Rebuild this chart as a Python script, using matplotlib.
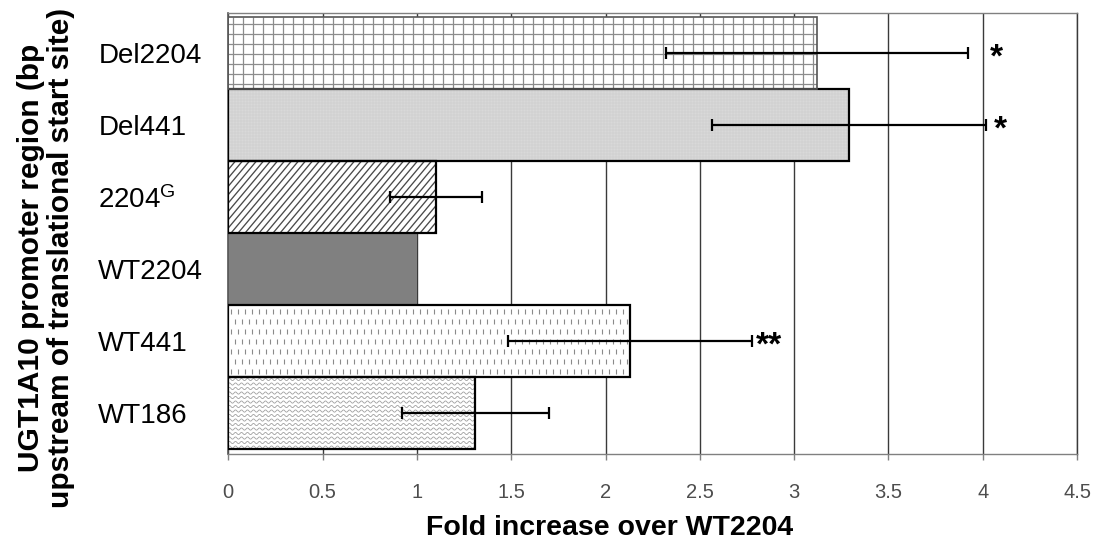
import numpy as np
import matplotlib
matplotlib.use("Agg")
import matplotlib.pyplot as plt
from matplotlib.collections import LineCollection
from matplotlib.transforms import IdentityTransform

# ---- data (bottom to top) ----
categories = ["WT186", "WT441", "WT2204", "2204$^{\\mathrm{G}}$", "Del441", "Del2204"]
fold = [1.31, 2.13, 1.00, 1.10, 3.29, 3.12]
err = [0.39, 0.645, 0.0, 0.245, 0.725, 0.80]
stars = ["", "**", "", "", "*", "*"]
xticks = [0, 0.5, 1, 1.5, 2, 2.5, 3, 3.5, 4, 4.5]
xticklabels = ["0", "0.5", "1", "1.5", "2", "2.5", "3", "3.5", "4", "4.5"]

# ---- styling ----
plt.rcParams["font.family"] = ["Liberation Sans", "DejaVu Sans"]
plt.rcParams["mathtext.fontset"] = "custom"
plt.rcParams["mathtext.rm"] = "Liberation Sans"
plt.rcParams["mathtext.it"] = "Liberation Sans:italic"
plt.rcParams["mathtext.bf"] = "Liberation Sans:bold"

textures = ["wave", "dash", "solid", "diag", "fine", "grid"]
faces = ["white", "white", "#808080", "white", "#d9d9d9", "white"]
edge_cols = ["black", "black", "none", "black", "black", "#555555"]
edge_lws = [1.6, 1.6, 0, 1.6, 1.6, 1.2]
star_dx = [0, 3, 0, 0, 6, 16]   # horizontal gap (pt) between error cap and marker

W, H = 1093, 550
DPI = 100
fig = plt.figure(figsize=(W / DPI, H / DPI), dpi=DPI)
ax = fig.add_axes([228.3 / W, 1 - 454 / H, (1077 - 228.3) / W, (454 - 13.3) / H])

y = np.arange(len(categories))
fold_a = np.asarray(fold)
err_a = np.asarray(err)

ax.set_xlim(0, 4.5)
ax.set_ylim(-0.569, 5.556)

# vertical grid behind the bars
ax.set_axisbelow(True)
ax.xaxis.grid(True, color="#3a3a3a", linewidth=1.0)
ax.yaxis.grid(False)

fills = ax.barh(y, fold_a, height=1.0, color=faces, edgecolor="none", zorder=2)


def add_texture(patch, kind):
    x0, y0, x1, y1 = patch.get_window_extent().extents
    segs = []
    color, lw = "#888888", 0.8
    if kind == "grid":
        for xx in np.arange(x0 + 5, x1, 10):
            segs.append([(xx, y0), (xx, y1)])
        for yy in np.arange(y0 + 5, y1, 10):
            segs.append([(x0, yy), (x1, yy)])
        color, lw = "#8c8c8c", 0.9
    elif kind == "fine":
        for xx in np.arange(x0 + 1, x1, 3):
            segs.append([(xx, y0), (xx, y1)])
        for yy in np.arange(y0 + 1, y1, 3):
            segs.append([(x0, yy), (x1, yy)])
        color, lw = "#c9c9c9", 0.35
    elif kind == "diag":
        h = y1 - y0
        run = h / np.tan(np.radians(50))
        for xx in np.arange(x0 - run, x1, 7):
            segs.append([(xx, y0), (xx + run, y1)])
        color, lw = "#4a4a4a", 0.95
    elif kind == "dash":
        for i, yy in enumerate(np.arange(y0 + 3, y1 - 2, 10)):
            off = 3.5 if i % 2 else 0
            for xx in np.arange(x0 + 3 + off, x1, 7):
                segs.append([(xx, yy), (xx, yy + 5)])
        color, lw = "#8a8a8a", 0.8
    elif kind == "wave":
        xs = np.arange(x0, x1 + 0.5, 0.5)
        for yy in np.arange(y0 + 2, y1, 4.5):
            segs.append(np.column_stack([xs, yy + 1.1 * np.sin(2 * np.pi * xs / 6)]))
        color, lw = "#a0a0a0", 0.6
    else:
        return
    lc = LineCollection(segs, colors=color, linewidths=lw,
                        transform=IdentityTransform(), zorder=2.5)
    ax.add_collection(lc, autolim=False)
    # clip to the bar itself (after adding, so the axes clip does not replace it)
    lc.set_clip_path(patch)


for patch, kind in zip(fills, textures):
    add_texture(patch, kind)

# bar outlines on top of the textures
ax.barh(y, fold_a, height=1.0, facecolor="none", edgecolor=edge_cols,
        linewidth=edge_lws, zorder=3)

# error bars (only where a spread was measured)
m = err_a > 0
ax.errorbar(fold_a[m], y[m], xerr=err_a[m], fmt="none", ecolor="black",
            elinewidth=1.6, capsize=4.3, capthick=1.6, zorder=4)

# significance markers
for yi, v, e, s, dx in zip(y, fold_a, err_a, stars, star_dx):
    if s:
        ax.annotate(s, xy=(v + e, yi), xytext=(dx, -9.5), textcoords="offset points",
                    ha="left", va="baseline", fontsize=24, fontweight="bold", zorder=5)

# axes appearance
for side in ("top", "bottom"):
    ax.spines[side].set_color("#808080")
    ax.spines[side].set_linewidth(1.0)
ax.spines["left"].set_color("#555555")
ax.spines["left"].set_linewidth(1.2)
ax.spines["right"].set_color("#3a3a3a")
ax.spines["right"].set_linewidth(1.0)

ax.set_xticks(xticks, xticklabels)
ax.tick_params(axis="x", length=4.3, width=1.0, color="#808080", pad=16.5,
               labelsize=14.5, labelcolor="#4d4d4d")
ax.set_yticks(y, categories)
ax.tick_params(axis="y", length=0, pad=93.6, labelsize=20)
for lbl in ax.get_yticklabels():
    lbl.set_horizontalalignment("left")

fig.text(46 / W, 1 - 258 / H,
         "UGT1A10 promoter region (bp\nupstream of translational start site)",
         rotation=90, ha="center", va="center", multialignment="center",
         fontsize=21.5, fontweight="bold", linespacing=1.05)
fig.text(610 / W, 1 - 535 / H, "Fold increase over WT2204",
         ha="center", va="baseline", fontsize=20.5, fontweight="bold")

fig.savefig("out.png", dpi=DPI)
